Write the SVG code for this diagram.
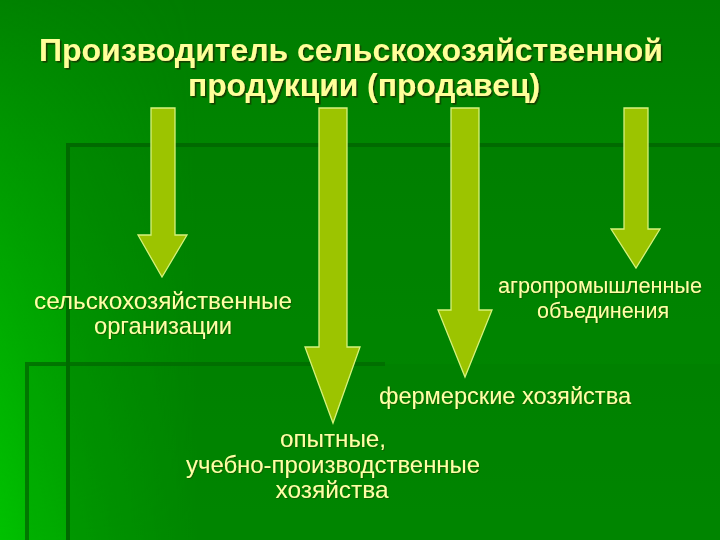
<svg xmlns="http://www.w3.org/2000/svg" width="720" height="540" viewBox="0 0 720 540">
  <defs>
    <linearGradient id="bg" x1="0" y1="0" x2="0" y2="1">
      <stop offset="0" stop-color="#007c00"/>
      <stop offset="0.3" stop-color="#008600"/>
      <stop offset="1" stop-color="#009400"/>
    </linearGradient>
    <linearGradient id="leftGlow" x1="0" y1="0" x2="1" y2="0">
      <stop offset="0" stop-color="#00d000" stop-opacity="0.75"/>
      <stop offset="1" stop-color="#00d000" stop-opacity="0"/>
    </linearGradient>
    <linearGradient id="leftFade" x1="0" y1="0" x2="0" y2="1">
      <stop offset="0" stop-color="#fff" stop-opacity="0.1"/>
      <stop offset="1" stop-color="#fff" stop-opacity="1"/>
    </linearGradient>
    <mask id="fadeMask">
      <rect x="0" y="0" width="720" height="540" fill="url(#leftFade)"/>
    </mask>
    <filter id="tshadow" x="-5%" y="-30%" width="110%" height="160%">
      <feDropShadow dx="1.6" dy="1.6" stdDeviation="0.4" flood-color="#143c00" flood-opacity="0.95"/>
    </filter>
    <filter id="lshadow" x="-3%" y="-30%" width="106%" height="160%">
      <feDropShadow dx="1" dy="1" stdDeviation="0.4" flood-color="#1e4a00" flood-opacity="0.6"/>
    </filter>
    <style>
      .arrow { fill: #9cc400; stroke: #d6f27c; stroke-width: 1.3; stroke-linejoin: miter; }
      .title { font-family: "Liberation Sans", Arial, sans-serif; font-weight: bold; font-size: 32px; fill: #ffff99; filter: url(#tshadow); }
      .label { font-family: "Liberation Sans", Arial, sans-serif; font-size: 24px; fill: #ffffa6; text-anchor: middle; filter: url(#lshadow); }
      .small { font-size: 22px; }
      .rule { stroke: #006a00; stroke-width: 4; fill: none; }
    </style>
  </defs>

  <!-- background -->
  <rect x="0" y="0" width="720" height="540" fill="url(#bg)"/>
  <rect x="0" y="0" width="200" height="540" fill="url(#leftGlow)" mask="url(#fadeMask)"/>
  <!-- decorative panels -->
  <rect x="67" y="145" width="653" height="395" fill="#006e00" opacity="0.28"/>
  <rect x="26" y="364" width="694" height="176" fill="#006e00" opacity="0.12"/>
  <path class="rule" d="M 66 145 L 720 145 M 68 145 L 68 540"/>
  <path class="rule" d="M 25 364 L 385 364 M 27 364 L 27 540" opacity="0.8"/>

  <!-- title -->
  <g id="title">
    <text class="title" x="39" y="61" textLength="624" lengthAdjust="spacingAndGlyphs">Производитель сельскохозяйственной</text>
    <text class="title" x="188" y="96" textLength="352" lengthAdjust="spacingAndGlyphs">продукции (продавец)</text>
  </g>

  <!-- connectors -->
  <g id="connectors">
    <polygon class="arrow" points="151,108 175,108 175,235 187,235 162,277 138,235 151,235"/>
    <polygon class="arrow" points="319,108 347,108 347,347 360,347 333,423 305,347 319,347"/>
    <polygon class="arrow" points="451,108 479,108 479,310 492,310 465,377 438,310 451,310"/>
    <polygon class="arrow" points="624,108 648,108 648,229 660,229 636,268 611,229 624,229"/>
  </g>

  <!-- nodes -->
  <g id="node-selkhoz">
    <text class="label" x="163" y="309" textLength="258" lengthAdjust="spacingAndGlyphs">сельскохозяйственные</text>
    <text class="label" x="163" y="334" textLength="138" lengthAdjust="spacingAndGlyphs">организации</text>
  </g>
  <g id="node-agro">
    <text class="label small" x="600" y="293" textLength="204" lengthAdjust="spacingAndGlyphs">агропромышленные</text>
    <text class="label small" x="603" y="318" textLength="132" lengthAdjust="spacingAndGlyphs">объединения</text>
  </g>
  <g id="node-fermer">
    <text class="label" x="505" y="404" textLength="252" lengthAdjust="spacingAndGlyphs">фермерские хозяйства</text>
  </g>
  <g id="node-opyt">
    <text class="label" x="333" y="447" textLength="106" lengthAdjust="spacingAndGlyphs">опытные,</text>
    <text class="label" x="333" y="473" textLength="294" lengthAdjust="spacingAndGlyphs">учебно-производственные</text>
    <text class="label" x="332" y="498" textLength="113" lengthAdjust="spacingAndGlyphs">хозяйства</text>
  </g>
</svg>
